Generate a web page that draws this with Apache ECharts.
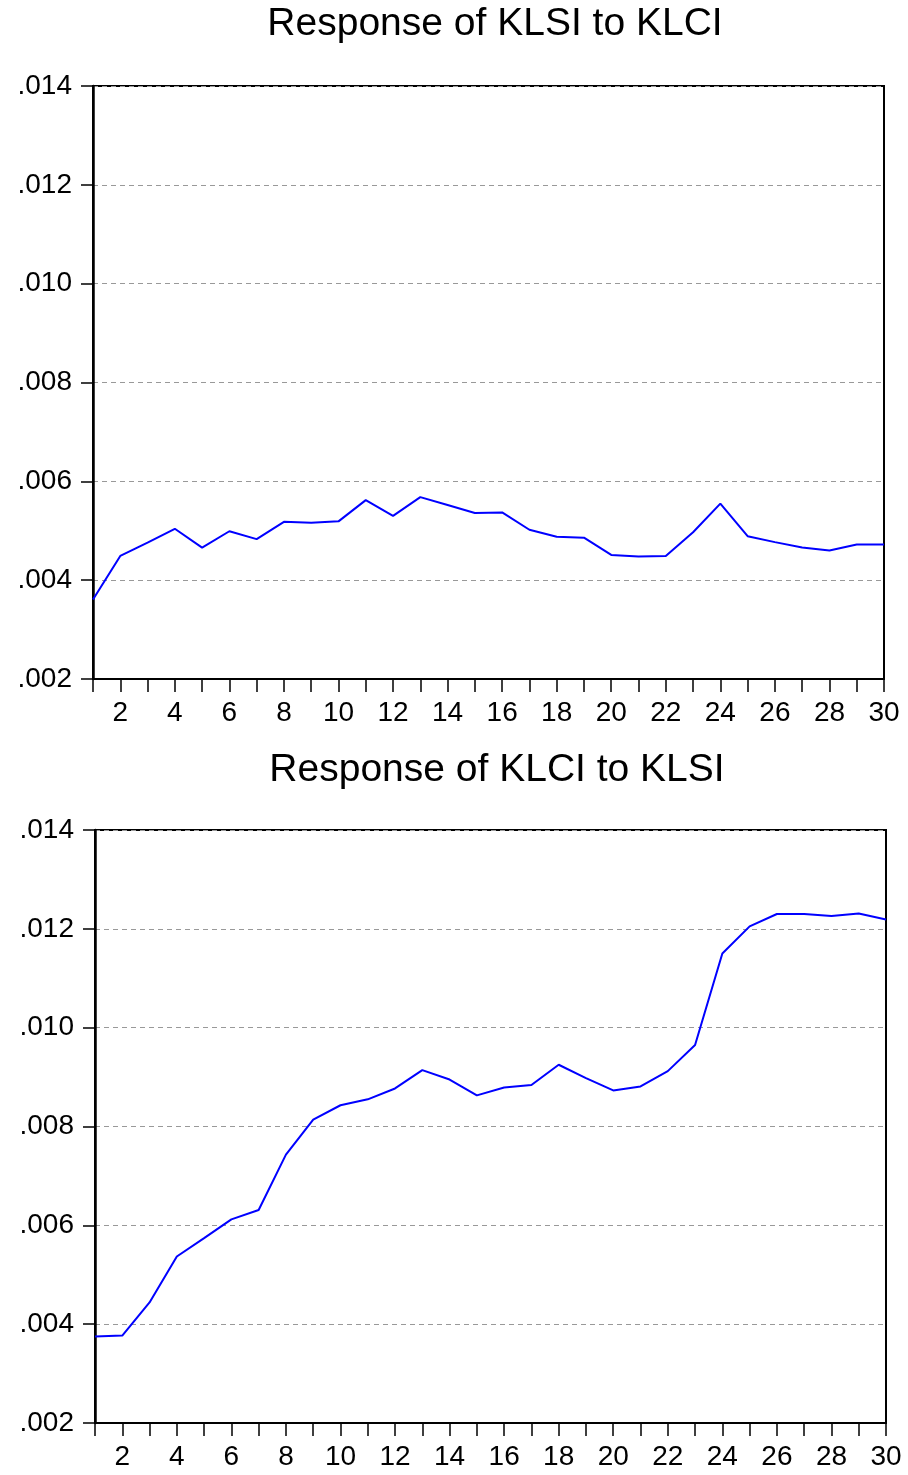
<!DOCTYPE html>
<html>
<head>
<meta charset="utf-8">
<script src="https://cdn.jsdelivr.net/npm/echarts@6/dist/echarts.min.js"></script>
<style>
  html, body { margin: 0; padding: 0; background: #fff; }
</style>
</head>
<body>
<div id="chart" style="width: 908px; height: 1475px"></div>
<script>
// periods 1..30
const periods = Array.from({ length: 30 }, (_, i) => i + 1)

const titles = ['Response of KLSI to KLCI', 'Response of KLCI to KLSI']

// response of KLSI to KLCI
const klsiToKlci = [
  0.00361, 0.00449, 0.00476, 0.00504, 0.00466, 0.00499, 0.00483, 0.00518, 0.00516, 0.00519,
  0.00562, 0.00530, 0.00568, 0.00552, 0.00536, 0.00537, 0.00502, 0.00488, 0.00486, 0.00451,
  0.00448, 0.00449, 0.00497, 0.00555, 0.00489, 0.00477, 0.00466, 0.00460, 0.00472, 0.00472
]

// response of KLCI to KLSI
const klciToKlsi = [
  0.00375, 0.00377, 0.00444, 0.00537, 0.00574, 0.00612, 0.00631, 0.00743, 0.00814, 0.00843,
  0.00855, 0.00877, 0.00914, 0.00895, 0.00863, 0.00879, 0.00884, 0.00925, 0.00898, 0.00873,
  0.00881, 0.00912, 0.00965, 0.01150, 0.01205, 0.01230, 0.01230, 0.01226, 0.01231, 0.01219
]

const yTicks = [0.002, 0.004, 0.006, 0.008, 0.010, 0.012, 0.014]

const chart = echarts.init(document.getElementById('chart'))

const font = 'Liberation Sans, Arial, sans-serif'

// x axis: ticks at each period, labels only on even periods
const makeX = (gridIndex) => ({
  type: 'value',
  gridIndex,
  min: 1,
  max: 30,
  interval: 1,
  axisLine: { show: true, lineStyle: { color: '#000', width: 2 } },
  axisTick: { show: true, length: 13, lineStyle: { color: '#000', width: 1.5 } },
  axisLabel: {
    margin: 20,
    fontSize: 28,
    fontFamily: font,
    color: '#000',
    formatter: (v) => (v % 2 === 0 ? String(v) : '')
  },
  splitLine: { show: false }
})

const makeY = (gridIndex) => ({
  type: 'value',
  gridIndex,
  min: yTicks[0],
  max: yTicks[yTicks.length - 1],
  interval: 0.002,
  axisLine: { show: true, lineStyle: { color: '#000', width: 2.5 } },
  axisTick: { show: true, length: 12, lineStyle: { color: '#000', width: 1.5 } },
  axisLabel: {
    margin: 21,
    fontSize: 28,
    fontFamily: font,
    color: '#000',
    formatter: (v) => v.toFixed(3).replace(/^0/, '')
  },
  splitLine: { show: true, lineStyle: { color: '#999', type: [5, 4], width: 1 } }
})

const titleStyle = { fontSize: 39, fontWeight: 'normal', fontFamily: font, color: '#000' }

const option = {
  backgroundColor: '#fff',
  animation: false,
  title: [
    { text: titles[0], left: 490, top: 0, textAlign: 'center', textStyle: titleStyle },
    { text: titles[1], left: 492, top: 746, textAlign: 'center', textStyle: titleStyle }
  ],
  grid: [
    { left: 93, top: 86, width: 791, height: 593, show: true, borderColor: '#000', borderWidth: 2 },
    { left: 95, top: 830, width: 791, height: 593, show: true, borderColor: '#000', borderWidth: 2 }
  ],
  xAxis: [makeX(0), makeX(1)],
  yAxis: [makeY(0), makeY(1)],
  series: [
    {
      type: 'line',
      xAxisIndex: 0,
      yAxisIndex: 0,
      data: periods.map((p, i) => [p, klsiToKlci[i]]),
      showSymbol: false,
      lineStyle: { color: '#0000ff', width: 2 }
    },
    {
      type: 'line',
      xAxisIndex: 1,
      yAxisIndex: 1,
      data: periods.map((p, i) => [p, klciToKlsi[i]]),
      showSymbol: false,
      lineStyle: { color: '#0000ff', width: 2 }
    }
  ]
}

chart.setOption(option)
</script>
</body>
</html>
